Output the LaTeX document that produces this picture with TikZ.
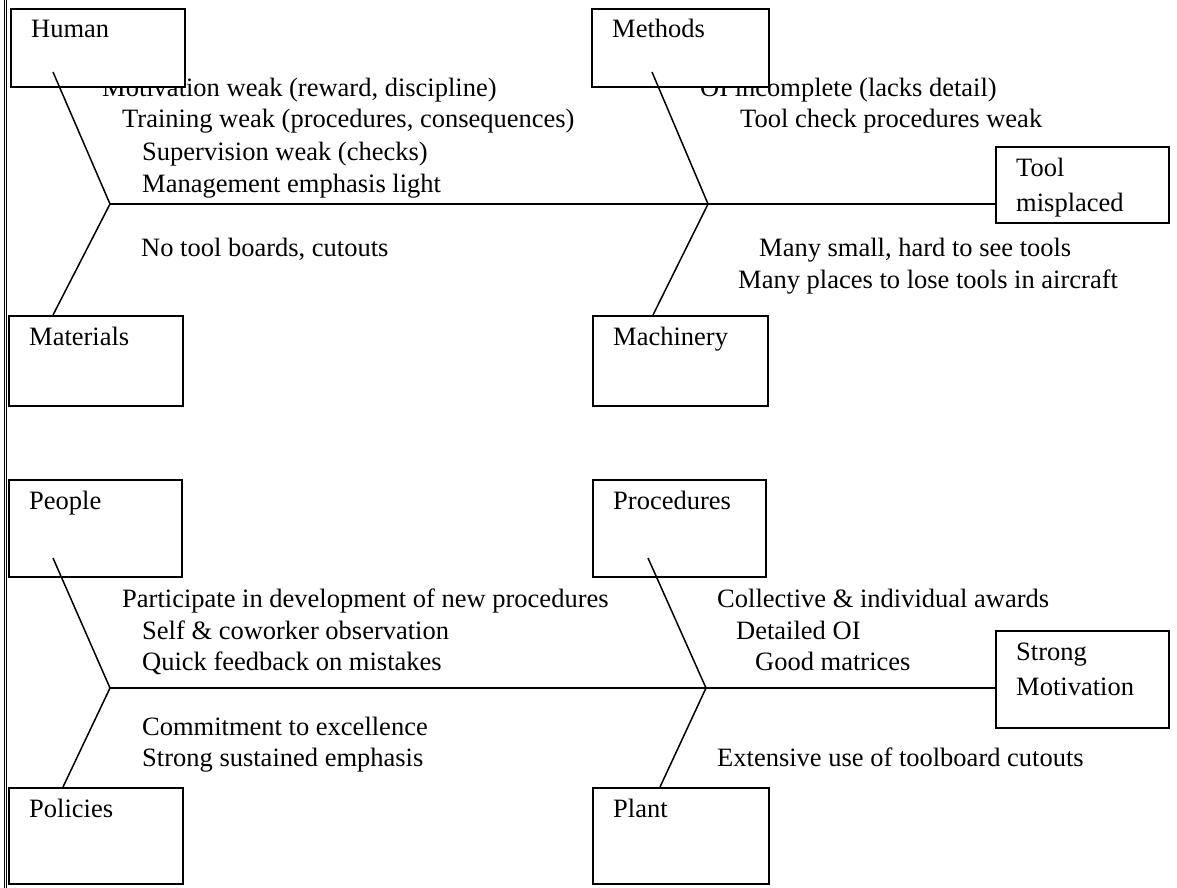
\documentclass[tikz,border=0pt]{standalone}
\usepackage{fontspec}
\setmainfont{Liberation Serif}
\begin{document}
\begin{tikzpicture}[x=1pt,y=-1pt,
  box/.style={draw, fill=white, line width=1.6pt, rectangle, anchor=north west, inner sep=0pt},
  rib/.style={line width=1.5pt},
  lbl/.style={anchor=base west, inner sep=0pt, font=\fontsize{26.5}{32}\selectfont},
  frame/.style={line width=1pt}]
\useasboundingbox (0,0) rectangle (1177,888);

% cause texts (drawn first so the boxes sit on top of them)
\node[lbl] (t1) at (102,97)  {Motivation weak (reward, discipline)};
\node[lbl] (t2) at (122,128) {Training weak (procedures, consequences)};
\node[lbl] (t3) at (142,160) {Supervision weak (checks)};
\node[lbl] (t4) at (142,192) {Management emphasis light};
\node[lbl] (t5) at (700,97)  {OI incomplete (lacks detail)};
\node[lbl] (t6) at (740,128) {Tool check procedures weak};
\node[lbl] (t7) at (141,256) {No tool boards, cutouts};
\node[lbl] (t8) at (759,256) {Many small, hard to see tools};
\node[lbl] (t9) at (738,288) {Many places to lose tools in aircraft};

\node[lbl] (s1) at (122,607) {Participate in development of new procedures};
\node[lbl] (s2) at (142,639) {Self \& coworker observation};
\node[lbl] (s3) at (142,670) {Quick feedback on mistakes};
\node[lbl] (s4) at (142,735) {Commitment to excellence};
\node[lbl] (s5) at (142,766) {Strong sustained emphasis};
\node[lbl] (s6) at (717,607) {Collective \& individual awards};
\node[lbl] (s7) at (736,639) {Detailed OI};
\node[lbl] (s8) at (755,670) {Good matrices};
\node[lbl] (s9) at (717,766) {Extensive use of toolboard cutouts};

% category and effect boxes
\node[box, minimum width=174pt, minimum height=78pt] (human)      at (10,8)   {};
\node[box, minimum width=177pt, minimum height=78pt] (methods)    at (591,8)  {};
\node[box, minimum width=173pt, minimum height=76pt] (tool)       at (995,146) {};
\node[box, minimum width=174pt, minimum height=90pt] (materials)  at (8,315)  {};
\node[box, minimum width=175pt, minimum height=90pt] (machinery)  at (592,315) {};
\node[box, minimum width=173pt, minimum height=97pt] (people)     at (8,479)  {};
\node[box, minimum width=173pt, minimum height=97pt] (procedures) at (592,479) {};
\node[box, minimum width=173pt, minimum height=97pt] (motiv)      at (995,630) {};
\node[box, minimum width=174pt, minimum height=96pt] (policies)   at (8,787)  {};
\node[box, minimum width=176pt, minimum height=96pt] (plant)      at (592,787) {};

% joints on the spines and rib end points
\coordinate (j1) at (110,204);
\coordinate (j2) at (708,204);
\coordinate (j3) at (110,688);
\coordinate (j4) at (706,688);
\coordinate (hs) at (53,72);
\coordinate (ms) at (652,72);
\coordinate (ps) at (53,558);
\coordinate (rs) at (648,558);

% spines
\draw[rib] (j1) -- (j1 -| tool.west);
\draw[rib] (j3) -- (j3 -| motiv.west);

% ribs
\draw[rib] (hs) -- (j1) -- (53,315);
\draw[rib] (ms) -- (j2) -- (653,315);
\draw[rib] (ps) -- (j3) -- (63,787);
\draw[rib] (rs) -- (j4) -- (660,787);

% box labels
\node[lbl] at ([shift={(21,30)}]human.north west)      {Human};
\node[lbl] at ([shift={(21,30)}]methods.north west)    {Methods};
\node[lbl] at ([shift={(21,30)}]tool.north west)       {Tool};
\node[lbl] at ([shift={(21,65)}]tool.north west)       {misplaced};
\node[lbl] at ([shift={(21,30)}]materials.north west)  {Materials};
\node[lbl] at ([shift={(21,30)}]machinery.north west)  {Machinery};
\node[lbl] at ([shift={(21,30)}]people.north west)     {People};
\node[lbl] at ([shift={(21,30)}]procedures.north west) {Procedures};
\node[lbl] at ([shift={(21,30)}]motiv.north west)      {Strong};
\node[lbl] at ([shift={(21,65)}]motiv.north west)      {Motivation};
\node[lbl] at ([shift={(21,30)}]policies.north west)   {Policies};
\node[lbl] at ([shift={(21,30)}]plant.north west)      {Plant};

% double rule along the left edge
\draw[frame] (4,0) -- (4,888);
\draw[frame] (6.5,0) -- (6.5,888);
\end{tikzpicture}
\end{document}
